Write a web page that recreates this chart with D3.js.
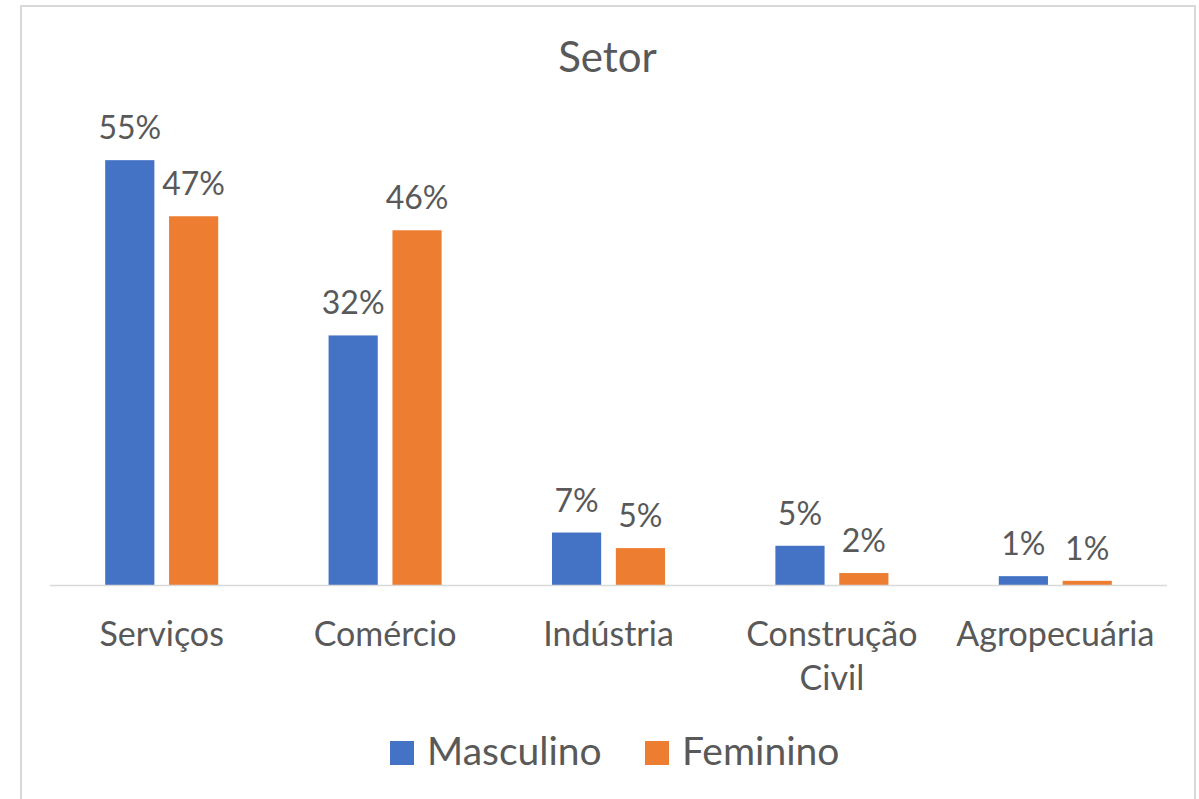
<!DOCTYPE html>
<html>
<head>
<meta charset="utf-8">
<script src="https://cdn.jsdelivr.net/npm/d3@7"></script>
<style>
  body { margin: 0; background: #fff; }
  text { font-family: Lato, "Open Sans", sans-serif; fill: #595959; }
</style>
</head>
<body>
<div id="chart"></div>
<script>
// data (percent)
const categories = ["Serviços", "Comércio", "Indústria", "Construção Civil", "Agropecuária"];
const seriesNames = ["Masculino", "Feminino"];
const masculino = [54.6, 32.1, 6.8, 5.1, 1.2];
const feminino = [47.4, 45.6, 4.8, 1.6, 0.6];
const colors = ["#4472C4", "#ED7D31"];

const width = 1199;
const height = 799;

const svg = d3.select("#chart")
    .append("svg")
    .attr("width", width)
    .attr("height", height);

// chart frame
svg.append("rect")
    .attr("x", 21).attr("y", 6)
    .attr("width", 1174).attr("height", 820)
    .attr("fill", "#fff")
    .attr("stroke", "#d9d9d9")
    .attr("stroke-width", 2);

svg.append("text")
    .attr("x", 607.5).attr("y", 72)
    .attr("text-anchor", "middle")
    .style("font-size", "42px")
    .text("Setor");

const rows = categories.map((c, i) => ({
    category: c,
    values: [masculino[i], feminino[i]]
}));

const x0 = d3.scaleBand()
    .domain(categories)
    .range([50, 1167])
    .paddingInner(0.494)
    .paddingOuter(0.247);

const x1 = d3.scaleBand()
    .domain(seriesNames)
    .range([0, x0.bandwidth()])
    .paddingInner(0.23);

const y = d3.scaleLinear()
    .domain([0, 60])
    .range([585.5, 118.1]);

const groups = svg.selectAll("g.group")
    .data(rows)
    .enter()
    .append("g")
    .attr("class", "group")
    .attr("transform", d => "translate(" + x0(d.category) + ",0)");

const bars = groups.selectAll("g.bar")
    .data(d => d.values.map((v, i) => ({ name: seriesNames[i], value: v, idx: i })))
    .enter()
    .append("g")
    .attr("class", "bar");

bars.append("rect")
    .attr("x", d => x1(d.name))
    .attr("y", d => y(d.value))
    .attr("width", x1.bandwidth())
    .attr("height", d => y(0) - y(d.value))
    .attr("fill", d => colors[d.idx]);

bars.append("text")
    .attr("x", d => x1(d.name) + x1.bandwidth() / 2)
    .attr("y", d => y(d.value) - 21)
    .attr("text-anchor", "middle")
    .style("font-size", "32px")
    .text(d => Math.round(d.value) + "%");

// baseline
svg.append("line")
    .attr("x1", 50).attr("x2", 1167)
    .attr("y1", y(0)).attr("y2", y(0))
    .attr("stroke", "#d9d9d9")
    .attr("stroke-width", 1.5);

// category labels, wrapped like Excel does
const catLabels = svg.selectAll("text.cat")
    .data(categories)
    .enter()
    .append("text")
    .attr("class", "cat")
    .attr("text-anchor", "middle")
    .attr("y", 646)
    .style("font-size", "34px")
    .each(function(d) {
        const el = d3.select(this);
        const cx = x0(d) + x0.bandwidth() / 2;
        el.text(d);
        if (this.getComputedTextLength() > 215 && d.indexOf(" ") > 0) {
            el.text(null);
            d.split(" ").forEach((w, i) => {
                el.append("tspan")
                    .attr("x", cx)
                    .attr("dy", i === 0 ? 0 : 44)
                    .text(w);
            });
        } else {
            el.attr("x", cx);
        }
    });

// legend
const legend = svg.append("g");
const legendX = [390, 645];
seriesNames.forEach((name, i) => {
    legend.append("rect")
        .attr("x", legendX[i]).attr("y", 741)
        .attr("width", 24).attr("height", 24)
        .attr("fill", colors[i]);
    legend.append("text")
        .attr("x", legendX[i] + 37).attr("y", 765)
        .style("font-size", "39px")
        .text(name);
});
</script>
</body>
</html>
